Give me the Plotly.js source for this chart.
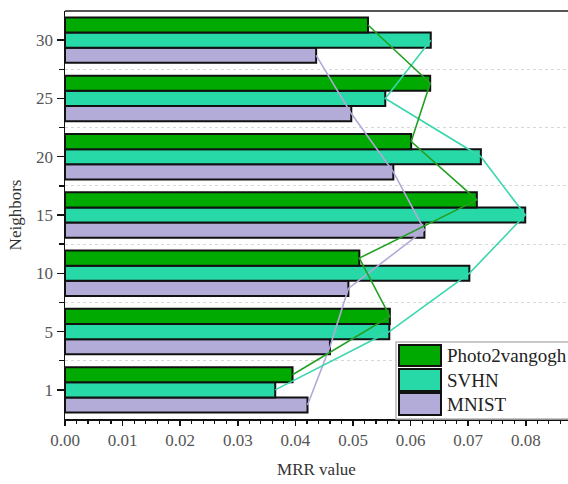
<!DOCTYPE html>
<html>
<head>
<meta charset="utf-8">
<script src="https://cdn.plot.ly/plotly-3.0.1.min.js"></script>
<style>
  html, body { margin: 0; padding: 0; background: #fff; }
  #chart { width: 568px; height: 484px; }
</style>
</head>
<body>
<div id="chart"></div>
<script>
// Neighbour counts (y categories, bottom to top)
const neighbors = ['1', '5', '10', '15', '20', '25', '30'];

// MRR value per neighbour count
const photo2vangogh = [0.0395, 0.0564, 0.0511, 0.0715, 0.0601, 0.0634, 0.0526];
const svhn          = [0.0365, 0.0563, 0.0702, 0.0799, 0.0722, 0.0556, 0.0635];
const mnist         = [0.0421, 0.0460, 0.0492, 0.0624, 0.0570, 0.0497, 0.0436];

const xTickVals = [0, 0.01, 0.02, 0.03, 0.04, 0.05, 0.06, 0.07, 0.08];
const xTickText = ['0.00', '0.01', '0.02', '0.03', '0.04', '0.05', '0.06', '0.07', '0.08'];

const SERIF = "'Liberation Serif', 'Times New Roman', Times, serif";

// Series drawn bottom-to-top inside each group
const series = [
  { name: 'MNIST',         values: mnist,         fill: '#b4acd8', line: '#b2a9d9' },
  { name: 'SVHN',          values: svhn,          fill: '#27d9a6', line: '#3ad6ad' },
  { name: 'Photo2vangogh', values: photo2vangogh, fill: '#00aa00', line: '#23a023' }
];

const pos = neighbors.map((_, i) => i);
const barW = 0.26;

const traces = [];
series.forEach((s, k) => {
  const off = (k - 1.5) * barW;
  traces.push({
    type: 'bar',
    orientation: 'h',
    name: s.name,
    x: s.values,
    y: pos,
    width: barW,
    offset: off,
    marker: { color: s.fill, line: { color: '#111', width: 2 } },
    showlegend: false,
    hoverinfo: 'x'
  });
});
// polylines joining the ends of each series' bars
series.forEach((s, k) => {
  const mid = (k - 1) * barW;
  traces.push({
    type: 'scatter',
    mode: 'lines',
    x: s.values,
    y: pos.map(p => p + mid),
    line: { color: s.line, width: 1.6 },
    showlegend: false,
    hoverinfo: 'skip'
  });
});

// plot area in pixels
const W = 568, H = 484;
const L = 65, R = 0, T = 11, B = 65;
const pw = W - L - R, ph = H - T - B;
const px = x => (x - L) / pw;
const py = y => 1 - (y - T) / ph;

// legend drawn as shapes + text
const legendRows = [
  { label: 'Photo2vangogh', fill: '#00aa00', y0: 345, y1: 366 },
  { label: 'SVHN',          fill: '#27d9a6', y0: 369, y1: 391 },
  { label: 'MNIST',         fill: '#b4acd8', y0: 393, y1: 415 }
];
const shapes = [
  // top frame line
  { type: 'line', xref: 'paper', yref: 'paper', x0: 0, x1: 1, y0: 1, y1: 1,
    line: { color: '#555', width: 2 } },
  { type: 'rect', xref: 'paper', yref: 'paper',
    x0: px(396), x1: px(580), y0: py(342), y1: py(419),
    fillcolor: '#ffffff', line: { color: '#b8b8b8', width: 1.5 }, layer: 'above' }
];
const annotations = [];
legendRows.forEach(r => {
  shapes.push({
    type: 'rect', xref: 'paper', yref: 'paper',
    x0: px(399), x1: px(441), y0: py(r.y0), y1: py(r.y1),
    fillcolor: r.fill, line: { color: '#111', width: 2 }, layer: 'above'
  });
  annotations.push({
    xref: 'paper', yref: 'paper',
    x: px(445), y: py((r.y0 + r.y1) / 2),
    xanchor: 'left', yanchor: 'middle',
    text: r.label, showarrow: false,
    font: { family: SERIF, size: 19, color: '#222' }
  });
});

const layout = {
  width: W, height: H,
  margin: { l: L, r: R, t: T, b: B, pad: 0 },
  paper_bgcolor: '#fff',
  plot_bgcolor: '#fff',
  barmode: 'overlay',
  showlegend: false,
  font: { family: SERIF, size: 17, color: '#555' },
  xaxis: {
    range: [0, pw / 5760],
    tickmode: 'array', tickvals: xTickVals, ticktext: xTickText,
    ticks: 'outside', ticklen: 5, tickwidth: 1.5, tickcolor: '#111',
    showline: true, linecolor: '#111', linewidth: 1.5,
    showgrid: false, zeroline: false,
    minor: { dtick: 0.002, tick0: 0, ticks: 'outside', ticklen: 3, tickwidth: 1.2, tickcolor: '#111', showgrid: false },
    tickfont: { family: SERIF, size: 17, color: '#555' },
    title: { text: 'MRR value', font: { family: SERIF, size: 17, color: '#333' }, standoff: 14 }
  },
  yaxis: {
    range: [-0.5, neighbors.length - 0.5],
    tickmode: 'array', tickvals: pos, ticktext: neighbors,
    ticks: 'outside', ticklen: 7, tickwidth: 1.5, tickcolor: '#111',
    showline: true, linecolor: '#111', linewidth: 1.5,
    showgrid: false, zeroline: false,
    minor: {
      tickmode: 'array', tickvals: pos.slice(0, -1).map(p => p + 0.5),
      ticks: 'outside', ticklen: 5, tickwidth: 1.5, tickcolor: '#111',
      showgrid: true, gridcolor: '#d8d8d8', griddash: 'dot', gridwidth: 1
    },
    tickfont: { family: SERIF, size: 17, color: '#555' },
    title: { text: 'Neighbors', font: { family: SERIF, size: 17, color: '#333' }, standoff: 10 }
  },
  shapes: shapes,
  annotations: annotations
};

Plotly.newPlot('chart', traces, layout, { staticPlot: true, displayModeBar: false });
</script>
</body>
</html>
